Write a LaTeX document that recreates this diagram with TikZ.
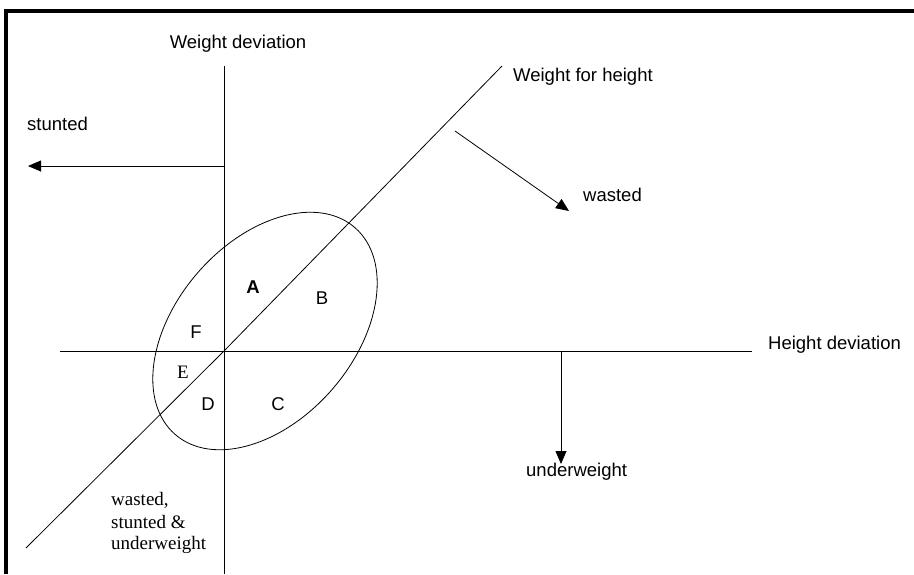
\documentclass[tikz,border=0pt]{standalone}
\usepackage{fontspec}
\setmainfont{Liberation Sans}
\newfontfamily\serifface{Liberation Serif}
\usetikzlibrary{arrows.meta}
\begin{document}
\begin{tikzpicture}[x=1pt,y=-1pt,
  axisline/.style={line width=1pt,black},
  thinline/.style={line width=0.8pt,black},
  arr/.style={line width=0.8pt,-{Triangle[length=13pt,width=11pt]}},
  lbl/.style={font=\fontsize{18.5}{21}\selectfont,inner sep=0pt},
  slbl/.style={font=\serifface\fontsize{19}{22}\selectfont,inner sep=0pt}]
\useasboundingbox (0,0) rectangle (914,574);
% frame
\draw[line width=3.5pt] (914,11) -- (6,11) -- (6,574);
% axes
\coordinate (vtop) at (224,66);
\coordinate (vbot) at (224,574);
\coordinate (hl) at (60,351);
\coordinate (hr) at (752,351);
\coordinate (o) at (224,351);
\coordinate (dtop) at (502,66);
\coordinate (dbot) at (26,548);
\draw[axisline] (vtop) -- (vbot);
\draw[axisline] (hl) -- (hr);
\draw[thinline] (dbot) -- (o) -- (dtop);
% ellipse
\draw[thinline,rotate around={49:(265,331)}] (265,331) ellipse [x radius=137pt, y radius=89pt];
% labels of axes
\node[lbl] (wd) at (238,44) {Weight deviation};
\node[lbl,anchor=west] (wfh) at (513,77) {Weight for height};
\node[lbl,anchor=west] (hd) at (768,345) {Height deviation};
% arrows
\coordinate (st0) at (224,166);
\coordinate (st1) at (28,166);
\draw[arr] (st0) -- (st1);
\node[lbl,anchor=west] (stunted) at (27,124) {stunted};
\coordinate (wa0) at (455,131);
\coordinate (wa1) at (569,211);
\draw[arr] (wa0) -- (wa1);
\node[lbl,anchor=west] (wasted) at (583,195) {wasted};
\coordinate (uw0) at (561,351);
\coordinate (uw1) at (561,464);
\draw[arr] (uw0) -- (uw1);
\node[lbl,anchor=west] (underweight) at (526,472) {underweight};
% region letters
\node[lbl,font=\bfseries\fontsize{18.5}{21}\selectfont] (A) at (253,287) {A};
\node[lbl] (B) at (322,298) {B};
\node[lbl] (C) at (278,404) {C};
\node[lbl] (D) at (208,404) {D};
\node[slbl] (E) at (183,372) {E};
\node[lbl] (F) at (196,332) {F};
% lower-left text
\node[slbl,anchor=west] (l1) at (111,500) {wasted,};
\node[slbl,anchor=west] (l2) at (111,522) {stunted \&};
\node[slbl,anchor=west] (l3) at (111,545) {underweight};
\end{tikzpicture}
\end{document}
